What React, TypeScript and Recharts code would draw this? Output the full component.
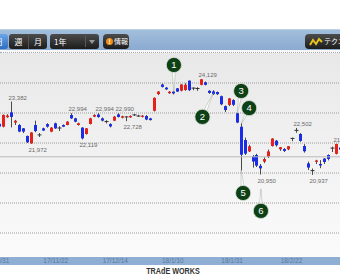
import React from "react";
import {
  ComposedChart,
  Bar,
  XAxis,
  YAxis,
  CartesianGrid,
  ReferenceLine,
  ReferenceDot,
} from "recharts";

// 日付（営業日）
const dates = [
  "17/10/31", "17/11/1", "17/11/2", "17/11/6", "17/11/7", "17/11/8", "17/11/9", "17/11/10",
  "17/11/13", "17/11/14", "17/11/15", "17/11/16", "17/11/17", "17/11/20", "17/11/21", "17/11/22",
  "17/11/24", "17/11/27", "17/11/28", "17/11/29", "17/11/30", "17/12/1", "17/12/4", "17/12/5",
  "17/12/6", "17/12/7", "17/12/8", "17/12/11", "17/12/12", "17/12/13", "17/12/14", "17/12/15",
  "17/12/18", "17/12/19", "17/12/20", "17/12/21", "17/12/22", "17/12/25", "17/12/26", "17/12/27",
  "17/12/28", "17/12/29", "18/1/4", "18/1/5", "18/1/9", "18/1/10", "18/1/11", "18/1/12",
  "18/1/15", "18/1/16", "18/1/17", "18/1/18", "18/1/19", "18/1/22", "18/1/23", "18/1/24",
  "18/1/25", "18/1/26", "18/1/29", "18/1/30", "18/1/31", "18/2/1", "18/2/2", "18/2/5",
  "18/2/6", "18/2/7", "18/2/8", "18/2/9", "18/2/13", "18/2/14", "18/2/15", "18/2/16",
  "18/2/19", "18/2/20", "18/2/21", "18/2/22", "18/2/23", "18/2/26", "18/2/27", "18/2/28",
  "18/3/1", "18/3/2", "18/3/5", "18/3/6", "18/3/7", "18/3/8", "18/3/9", "18/3/12",
  "18/3/13", "18/3/14",
];

// 四本値（画面外の先頭3本は null）
const opens = [
  null, null, null, 22640, 22545, 22860, 23020, 22680,
  22600, 22489, 22234, 21990, 22600, 22270, 22489, 22630,
  22378, 22656, 22500, 22600, 22600, 22933, 22822, 22600,
  22512, 22300, 22634, 22878, 22950, 22822, 22715, 22630,
  22745, 22955, 22845, 22870, 22856, 22915, 22900, 22870,
  22900, 22820, 23073, 23630, 23950, 23845, 23660, 23711,
  23822, 23744, 23767, 24078, 23830, 23800, 23940, 24022,
  23740, 23720, 23700, 23560, 23230, 23270, 23430, 22990,
  22540, 22100, 21720, 21550, 21600, 21240, 21380, 21540,
  21900, 22078, 21790, 21800, 21790, 22130, 22420, 22300,
  21900, 21320, 21080, 21370, 21300, 21480, 21600, 21830,
  21640, 21850,
];
const highs = [
  null, null, null, 22680, 22950, 22960, 23382, 22770,
  22630, 22500, 22250, 22360, 22745, 22330, 22510, 22660,
  22530, 22680, 22560, 22620, 22730, 22994, 22840, 22680,
  22530, 22500, 22840, 22960, 22994, 22850, 22760, 22660,
  22900, 22990, 22910, 22890, 22920, 22960, 22940, 22930,
  22930, 22840, 23520, 23730, 23980, 23870, 23730, 23740,
  23830, 23960, 23990, 24084, 23850, 23860, 24129, 24050,
  23760, 23760, 23720, 23580, 23250, 23500, 23460, 23000,
  22660, 22180, 21940, 21600, 21640, 21300, 21520, 21780,
  22160, 22100, 21870, 21830, 21900, 22180, 22502, 22330,
  21960, 21380, 21150, 21440, 21430, 21500, 21620, 21880,
  21972, 21900,
];
const lows = [
  null, null, null, 22500, 22520, 22840, 22519, 22600,
  22360, 22330, 22000, 21972, 22360, 22200, 22400, 22510,
  22360, 22470, 22400, 22530, 22590, 22800, 22690, 22580,
  22119, 22280, 22620, 22860, 22840, 22720, 22650, 22520,
  22730, 22850, 22820, 22728, 22840, 22900, 22870, 22850,
  22760, 22750, 23050, 23600, 23850, 23770, 23640, 23620,
  23700, 23720, 23740, 23730, 23760, 23740, 23920, 23920,
  23640, 23600, 23600, 23260, 23030, 23230, 23230, 22660,
  21078, 21600, 21700, 21180, 21200, 20950, 21330, 21500,
  21880, 21880, 21740, 21700, 21760, 22060, 22340, 22040,
  21680, 21100, 20937, 21300, 21160, 21300, 21420, 21700,
  21620, 21700,
];
const closes = [
  null, null, null, 22548, 22937, 22914, 22869, 22740,
  22381, 22380, 22028, 22351, 22397, 22261, 22416, 22545,
  22512, 22489, 22486, 22545, 22711, 22822, 22711, 22656,
  22156, 22489, 22822, 22933, 22866, 22745, 22700, 22553,
  22878, 22868, 22891, 22866, 22902, 22939, 22892, 22911,
  22783, 22764, 23506, 23714, 23870, 23788, 23710, 23653,
  23714, 23951, 23940, 23763, 23808, 23816, 24124, 23940,
  23669, 23631, 23629, 23291, 23098, 23486, 23274, 22682,
  21610, 21645, 21891, 21382, 21245, 21154, 21464, 21720,
  22149, 21925, 21860, 21736, 21892, 22153, 22389, 22068,
  21724, 21181, 21042, 21417, 21252, 21368, 21469, 21824,
  21968, 21777,
];

const tickDates = ["17/10/31", "17/11/22", "17/12/14", "18/1/10", "18/1/31", "18/2/22"];
const highMarks = ["17/11/9", "17/12/1", "17/12/12", "17/12/19", "18/1/23", "18/2/27", "18/3/13"];
const lowMarks = ["17/11/16", "17/12/6", "17/12/21", "18/2/14", "18/3/5"];
const gridPrices = [19000, 20000, 21000, 22000, 23000, 24000];
const baseLine = 21540;

// 吹き出し番号の位置（date, price が矢印の先）
const pinNos = [1, 2, 3, 4, 5, 6];
const pinDates = ["18/1/12", "18/1/26", "18/2/5", "18/2/6", "18/2/6", "18/2/14"];
const pinPrices = [23700, 23670, 23000, 22630, 21100, 20470];
const pinOffsets: Record<number, [number, number]> = {
  1: [0, -27],
  2: [-11, 24],
  3: [4, -22],
  4: [8, -16],
  5: [2, 23],
  6: [0, 22],
};

const UP = "#e8201a";
const DOWN = "#1a2ee8";
const fmt = (v: number) => v.toLocaleString("en-US");

const chartData = dates.map((date, i) => ({
  date,
  open: opens[i],
  high: highs[i],
  low: lows[i],
  close: closes[i],
}));

const Candle = (props: any) => {
  const { x, y, width, height, payload } = props;
  if (payload == null || payload.open == null) return null;
  const { open, high, low, close, date } = payload;
  const top0 = Math.min(y, y + height);
  const h = Math.abs(height);
  const k = high === low ? 0 : h / (high - low);
  const py = (p: number) => top0 + (high - p) * k;
  const up = close >= open;
  const color = up ? UP : DOWN;
  const bTop = py(Math.max(open, close));
  const bBot = py(Math.min(open, close));
  const cx = Math.round(x + width / 2) + 0.5;
  const bh = Math.max(bBot - bTop, 1);
  const isHigh = highMarks.includes(date);
  const isLow = lowMarks.includes(date);
  return (
    <g>
      <line x1={cx} x2={cx} y1={top0} y2={top0 + h} stroke="#4a4a4a" strokeWidth={1} />
      {bBot - bTop < 1.2 ? (
        <line x1={cx - 2} x2={cx + 2} y1={bTop} y2={bTop} stroke="#333" strokeWidth={1} />
      ) : (
        <rect x={cx - 1.5} y={bTop} width={3} height={bh} fill={color} />
      )}
      {isHigh && (
        <text x={cx - 3} y={top0 - 2} fontSize={6} fill="#6a6a6a" fontFamily="Liberation Sans, Arial">
          {fmt(high)}
        </text>
      )}
      {isLow && (
        <text x={cx - 3} y={top0 + h + 8} fontSize={6} fill="#6a6a6a" fontFamily="Liberation Sans, Arial">
          {fmt(low)}
        </text>
      )}
    </g>
  );
};

const Pin = (props: any) => {
  const { cx, cy, n } = props;
  if (cx == null || cy == null) return null;
  const [dx, dy] = pinOffsets[n];
  const px = cx + dx;
  const py = cy + dy;
  const len = Math.hypot(dx, dy) || 1;
  const nx = (-dy / len) * 2;
  const ny = (dx / len) * 2;
  return (
    <g>
      <polygon
        points={`${px + nx},${py + ny} ${px - nx},${py - ny} ${cx},${cy}`}
        fill="#ffffff"
        stroke="#8a9a8a"
        strokeWidth={0.4}
      />
      <circle cx={px} cy={py} r={7.6} fill="#0e4015" stroke="#d8e2d8" strokeWidth={0.8} />
      <text
        x={px}
        y={py + 3.3}
        textAnchor="middle"
        fontSize={9.5}
        fill="#ffffff"
        fontFamily="Liberation Sans, Arial"
      >
        {n}
      </text>
    </g>
  );
};

const DateTick = (props: any) => {
  const { x, payload } = props;
  return (
    <text x={x - 4} y={213.4} fontSize={6.5} fill="#5a7aa2" fontFamily="Liberation Sans, Arial">
      {payload.value}
    </text>
  );
};

const darkBtn: React.CSSProperties = {
  position: "absolute",
  top: 4,
  height: 15,
  background: "linear-gradient(#4c4c4c, #1c1c1c)",
  color: "#fff",
  fontSize: 8,
  lineHeight: "15px",
  textAlign: "center",
  boxSizing: "border-box",
  fontFamily: "Noto Sans CJK JP, sans-serif",
};

const App: React.FC = () => {
  return (
    <div
      style={{
        position: "absolute",
        left: 0,
        top: 0,
        width: 340,
        height: 280,
        overflow: "hidden",
        background: "#fff",
      }}
    >
      {/* ツールバー */}
      <div
        style={{
          position: "absolute",
          left: 0,
          top: 29,
          width: 340,
          height: 21,
          background: "linear-gradient(#a2bedc, #8aaad0)",
          borderTop: "1px solid #bcd0e6",
          boxSizing: "border-box",
        }}
      >
        <div style={{ ...darkBtn, left: -10, width: 18, background: "linear-gradient(#6aa6e6, #2e6cc2)", borderRadius: 3 }}>
          日
        </div>
        <div style={{ ...darkBtn, left: 9, width: 20, borderRadius: "3px 0 0 3px", borderRight: "1px solid #555" }}>週</div>
        <div style={{ ...darkBtn, left: 29, width: 18, borderRadius: "0 3px 3px 0" }}>月</div>
        <div style={{ ...darkBtn, left: 50, width: 49, borderRadius: 3, textAlign: "left" }}>
          <span style={{ position: "absolute", left: 4 }}>1年</span>
          <span style={{ position: "absolute", left: 35, top: 2, width: 1, height: 11, background: "#5a5a5a" }} />
          <span
            style={{
              position: "absolute",
              left: 39,
              top: 6,
              width: 0,
              height: 0,
              borderLeft: "3.5px solid transparent",
              borderRight: "3.5px solid transparent",
              borderTop: "4px solid #9a9a9a",
            }}
          />
        </div>
        <div style={{ ...darkBtn, left: 103, width: 26, borderRadius: 4, fontSize: 7 }}>
          <span
            style={{
              position: "absolute",
              left: 3,
              top: 4,
              width: 7,
              height: 7,
              borderRadius: "50%",
              background: "#f08c12",
              fontSize: 6,
              lineHeight: "7px",
              fontWeight: "bold",
            }}
          >
            !
          </span>
          <span style={{ position: "absolute", left: 11 }}>情報</span>
        </div>
        <div style={{ ...darkBtn, left: 305, width: 44, borderRadius: 4, fontSize: 7, textAlign: "left" }}>
          <svg width={14} height={10} style={{ position: "absolute", left: 4, top: 3 }}>
            <polyline points="1,8 4,3 7,7 10,2 13,5" fill="none" stroke="#e8c020" strokeWidth={2} />
          </svg>
          <span style={{ position: "absolute", left: 19 }}>テクニカル</span>
        </div>
      </div>

      {/* チャート背景 */}
      <div style={{ position: "absolute", left: 0, top: 50, width: 340, height: 2, background: "#f6f6f6" }} />
      <div style={{ position: "absolute", left: 0, top: 52, width: 340, height: 0, borderTop: "1px dotted #a8a8a8" }} />
      <div
        style={{
          position: "absolute",
          left: 0,
          top: 53,
          width: 340,
          height: 204,
          background: "linear-gradient(#e8e8e8, #fbfbfb)",
        }}
      />
      <div style={{ position: "absolute", left: 0, top: 257, width: 340, height: 8, background: "#8eaed3" }} />

      <div style={{ position: "absolute", left: -13.8, top: 50 }}>
        <ComposedChart
          width={356}
          height={215}
          data={chartData}
          margin={{ top: 3, right: 0, bottom: 0, left: 0 }}
        >
          <CartesianGrid
            vertical={false}
            horizontalValues={gridPrices}
            stroke="#9c9c9c"
            strokeDasharray="1 1"
          />
          <XAxis
            dataKey="date"
            ticks={tickDates}
            interval={0}
            height={8}
            tickLine={false}
            axisLine={false}
            tick={<DateTick />}
          />
          <YAxis hide domain={[18200, 25000]} ticks={gridPrices} allowDataOverflow />
          <ReferenceLine y={baseLine} stroke="#b8b8b8" strokeWidth={1} />
          <Bar
            dataKey={(d: any) => (d.open == null ? null : [d.low, d.high])}
            barSize={3}
            isAnimationActive={false}
            shape={(p: any) => <Candle {...p} />}
          />
          {pinNos.map((n, i) => (
            <ReferenceDot
              key={n}
              x={pinDates[i]}
              y={pinPrices[i]}
              r={0}
              ifOverflow="visible"
              shape={(p: any) => <Pin {...p} n={n} />}
            />
          ))}
        </ComposedChart>
      </div>

      <div
        style={{
          position: "absolute",
          left: 120,
          top: 266,
          width: 106,
          textAlign: "center",
          fontFamily: "Liberation Sans, Arial",
          fontWeight: "bold",
          fontSize: 9,
          color: "#333",
          transform: "scaleX(0.8)",
        }}
      >
        TRAdE WORKS
      </div>
    </div>
  );
};

export default App;
